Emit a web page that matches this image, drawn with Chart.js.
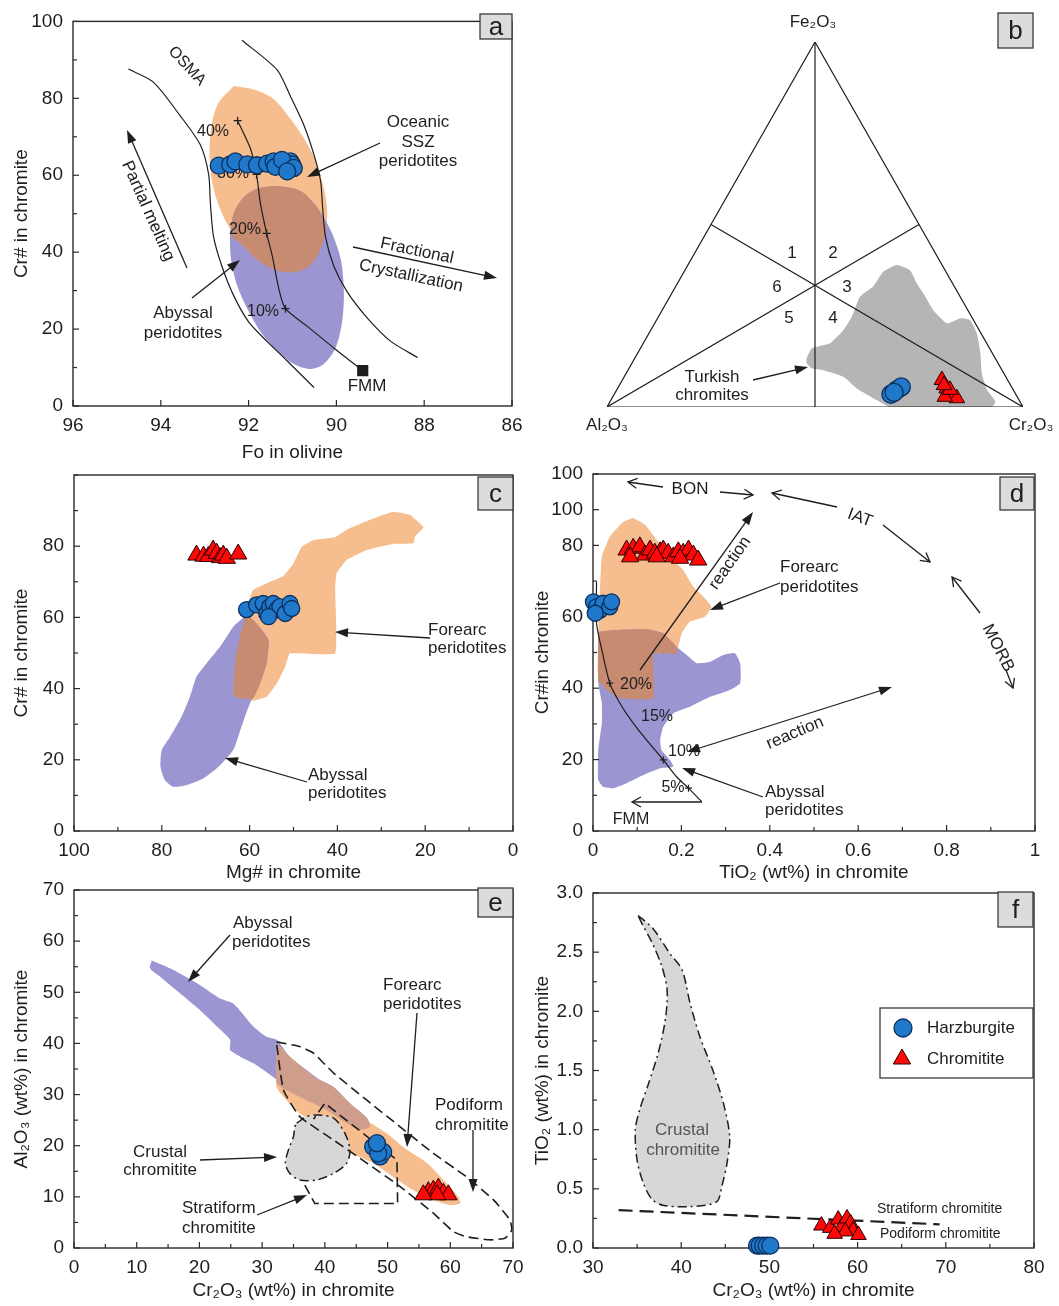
<!DOCTYPE html>
<html>
<head>
<meta charset="utf-8">
<title>Chromite discrimination diagrams</title>
<script src="https://cdn.jsdelivr.net/npm/chart.js@4.4.1/dist/chart.umd.min.js"></script>
<style>
html,body{margin:0;padding:0;background:#ffffff;}
#wrap{position:relative;width:1059px;height:1306px;overflow:hidden;background:#ffffff;}
#wrap canvas{position:absolute;left:0;top:0;}
</style>
</head>
<body>
<div id="wrap">
<canvas id="ca" width="1059" height="1306"></canvas>
<canvas id="cb" width="1059" height="1306"></canvas>
<canvas id="cc" width="1059" height="1306"></canvas>
<canvas id="cd" width="1059" height="1306"></canvas>
<canvas id="ce" width="1059" height="1306"></canvas>
<canvas id="cf" width="1059" height="1306"></canvas>
</div>
<script>
// ===================== DATA =====================
const seriesNames = ['Harzburgite', 'Chromitite'];

// ---- (a) Cr# in chromite vs Fo in olivine ----
const aSSZ_x = [92.34,91.88,91.43,91.05,90.74,90.47,90.29,90.21,90.25,90.40,90.66,91.05,91.43,91.81,92.19,92.49,92.72,92.86,92.89,92.83,92.68];
const aSSZ_y = [83.2,82.3,79.8,74.7,69.6,63.6,56.8,50.8,44.9,39.8,36.0,34.7,35.5,38.1,42.3,47.4,53.4,60.2,67.0,73.8,78.9];
const aAby_x = [91.35,90.82,90.44,90.13,89.90,89.83,89.87,90.02,90.29,90.59,90.97,91.35,91.73,92.03,92.26,92.40,92.42,92.34,92.11,91.77];
const aAby_y = [57.2,55.9,51.7,45.7,38.1,29.6,21.9,15.1,10.9,9.6,10.9,14.3,19.4,25.3,31.3,38.1,44.9,50.0,54.3,56.6];
const aOvl_x = [92.40,92.34,92.11,91.77,91.35,90.82,90.44,90.25,90.25,90.40,90.66,91.05,91.43,91.81,92.19];
const aOvl_y = [44.1,50.0,54.3,56.6,57.2,55.9,51.7,47.0,44.9,39.8,36.0,34.7,35.5,38.1,42.3];
const aOsmaL_x = [94.74,94.17,93.56,93.10,92.91,92.87,92.80,92.61,92.34,92.00,91.58,91.12,90.51];
const aOsmaL_y = [87.6,84.2,75.5,67.9,60.2,52.6,44.1,36.4,28.7,21.9,16.8,11.7,4.8];
const aOsmaR_x = [92.15,91.35,91.05,90.74,90.51,90.36,90.32,90.25,90.06,89.75,89.29,88.76,88.15];
const aOsmaR_y = [95.1,87.4,80.6,73.0,65.3,58.5,52.6,44.1,36.4,29.6,22.8,16.8,12.6];
const aMelt_x = [89.40,90.06,90.66,91.16,91.31,91.46,91.59,91.73,91.82,91.96,92.25];
const aMelt_y = [9.2,15.1,20.7,25.3,30.4,39.0,44.9,52.6,60.2,67.0,74.2];
const aMark_x = [92.25,91.82,91.59,91.16];
const aMark_y = [74.2,60.2,44.9,25.3];
const aFMM_x = [89.4];
const aFMM_y = [9.2];
const aHz_x = [92.68,92.42,92.30,92.03,91.81,91.58,91.43,91.31,91.20,91.12,91.05,91.01,91.39,91.24,90.97,91.12];
const aHz_y = [62.5,62.8,63.6,62.8,62.6,63.0,63.6,62.6,63.0,61.9,63.6,62.8,62.2,64.0,61.9,61.0];

// ---- (b) ternary Al2O3 - Cr2O3 - Fe2O3 (percent of Cr2O3 and Fe2O3) ----
const bTurk_cr = [41.3,41.2,44.9,46.3,46.5,45.7,47.5,47.9,50.2,54.1,57.5,60.4,65.1,70.3,72.8,75.4,78.8,82.4,85.5,89.0,92.6,92.5,68.0,63.9,57.5,52.7,47.0,43.9,42.0];
const bTurk_fe = [13.3,16.1,17.5,21.1,24.7,30.2,33.0,37.1,38.9,37.5,33.9,31.2,26.6,22.9,24.3,23.8,20.2,14.7,9.2,4.7,1.5,0,0,1.9,5.1,8.3,10.1,10.6,12.0];
const bHz_cr = [67.3,66.5,68.0,67.0];
const bHz_fe = [4.7,3.5,5.5,4.0];
const bRed_cr = [76.8,79.1,81.2,82.9,79.8,80.1,78.0];
const bRed_fe = [7.4,5.1,3.3,2.4,2.8,4.7,6.0];
const bFieldLabels = ['1','2','3','4','5','6'];

// ---- (c) Cr# vs Mg# in chromite ----
const cFore_x = [63.7,63.3,62.2,60.7,59.2,56.1,52.3,50.0,48.1,45.5,40.5,37.9,32.6,27.3,23.5,20.4,22.3,22.7,27.3,33.3,37.9,40.2,40.5,40.5,50.8,51.9,53.8,56.1,59.2,62.2];
const cFore_y = [38.2,47.1,54.6,63.0,67.7,69.6,71.6,75.2,79.9,81.7,82.5,84.6,87.4,89.7,88.8,85.3,82.7,80.8,80.6,78.9,76.1,72.4,67.7,49.9,49.9,46.1,41.5,37.7,36.6,37.2];
const cAby_x = [60.7,63.7,66.7,69.8,72.1,73.6,75.5,78.1,80.0,80.3,79.3,77.4,74.3,70.5,66.7,63.7,62.6,61.6,59.9,57.6,56.1,55.7,58.4];
const cAby_y = [60.7,57.4,51.8,47.1,43.3,37.7,32.1,26.5,22.8,18.1,14.3,12.4,12.9,14.8,18.5,22.8,26.5,30.2,35.9,41.5,47.1,53.7,58.3];
const cOvl_x = [60.7,58.4,55.7,56.1,57.6,59.2,62.2,63.7,63.3,62.2];
const cOvl_y = [61.1,58.3,53.7,47.1,41.5,37.2,37.2,38.2,47.1,54.6];
const cRed_x = [72.1,70.5,69.4,68.3,67.5,66.7,66.0,65.2,62.6];
const cRed_y = [77.5,77.2,77.1,78.9,78.0,76.8,77.5,76.6,77.8];
const cHz_x = [60.7,58.4,56.9,56.1,55.4,54.6,53.8,53.1,51.9,50.8,50.4,55.7];
const cHz_y = [62.2,63.5,63.9,61.1,63.0,63.9,62.1,63.0,61.1,63.9,62.5,60.2];
const cYTicks = [0,20,40,60,80];

// ---- (d) Cr# vs TiO2 in chromite ----
const dFore_x = [0.012,0.016,0.020,0.038,0.069,0.091,0.118,0.144,0.174,0.204,0.227,0.250,0.268,0.253,0.219,0.201,0.193,0.189,0.137,0.137,0.061,0.031,0.012];
const dFore_y = [55.8,67.5,76.8,82.4,86.6,87.6,85.7,81.5,76.8,73.1,68.4,65.6,62.8,60.0,58.6,55.4,51.6,49.6,49.6,37.2,37.2,39.5,42.3];
const dAby_x = [0.012,0.054,0.121,0.159,0.189,0.212,0.235,0.265,0.295,0.321,0.333,0.333,0.310,0.265,0.219,0.182,0.159,0.152,0.155,0.174,0.182,0.152,0.114,0.076,0.046,0.023,0.012,0.012,0.020,0.020,0.012];
const dAby_y = [55.8,56.3,56.5,55.4,51.6,49.3,47.0,47.4,49.3,49.8,47.0,41.4,39.5,37.6,34.8,33.0,29.2,25.5,22.7,19.9,18.0,17.6,15.7,13.4,12.0,12.4,14.3,22.7,30.2,35.8,41.4];
const dOvl_x = [0.012,0.054,0.121,0.159,0.189,0.189,0.137,0.137,0.061,0.031,0.012];
const dOvl_y = [55.8,56.3,56.5,55.4,51.6,49.6,49.6,37.2,37.2,39.5,42.3];
const dMelt_x = [0.008,0.008,0.020,0.038,0.061,0.091,0.121,0.159,0.189,0.216,0.246];
const dMelt_y = [69.8,58.2,50.7,41.4,35.8,30.2,25.5,19.9,15.2,12.0,8.2];
const dMark_x = [0.038,0.159,0.216];
const dMark_y = [41.4,19.9,12.0];
const dRed_x = [0.076,0.091,0.106,0.118,0.129,0.140,0.152,0.159,0.170,0.182,0.193,0.204,0.216,0.227,0.238,0.084,0.144,0.197];
const dRed_y = [78.7,79.2,79.6,77.3,78.7,77.8,78.2,78.7,77.8,76.8,78.2,77.8,78.7,77.3,75.9,76.8,76.8,76.4];
const dHz_x = [0.001,0.008,0.016,0.023,0.038,0.042,0.005];
const dHz_y = [64.2,62.8,61.9,63.8,62.8,64.2,61.0];
const dYTicks = [0,20,40,60,80,90,100];
const dYLabels = ['0','20','40','60','80','100','100'];
const dXTicks = [0,0.2,0.4,0.6,0.8,1];
const dXLabels = ['0','0.2','0.4','0.6','0.8','1'];

// ---- (e) Al2O3 vs Cr2O3 in chromite ----
const eAby_x = [12.4,15.8,20.1,23.3,25.4,28.6,30.7,32.3,34.4,37.1,39.2,41.4,44.0,46.7,47.2,45.6,43.5,40.3,37.1,33.9,32.3,30.2,28.6,26.5,24.9,24.9,22.8,20.1,16.9,13.7,12.1];
const eAby_y = [56.2,54.4,51.4,48.8,47.8,43.3,41.3,40.7,37.4,34.8,32.9,31.5,28.3,25.4,23.7,23.1,24.4,27.0,28.9,30.9,32.9,34.8,36.1,37.4,38.7,40.7,43.3,46.5,49.8,53.1,54.7];
const eFore_x = [32.3,35.0,38.2,40.8,43.5,46.7,49.9,53.1,56.3,58.9,61.3,61.6,60.0,57.3,54.1,50.9,47.7,44.5,41.4,38.7,36.0,33.9,32.3,32.3];
const eFore_y = [40.0,36.8,33.5,30.9,28.3,25.0,22.4,19.2,16.6,13.3,10.0,8.7,8.4,9.4,11.3,13.9,16.6,18.5,21.8,24.4,26.3,28.9,31.5,37.4];
const eOvl_x = [32.3,35.0,38.2,41.4,44.0,46.7,47.2,45.6,43.5,40.3,37.1,33.9,32.3];
const eOvl_y = [40.0,36.8,33.5,31.5,28.3,25.4,23.7,23.1,24.4,27.0,28.9,30.9,32.2];
const ePod_x = [32.3,36.0,38.2,41.4,46.7,52.0,57.3,62.6,66.9,69.5,69.8,68.7,66.3,62.6,60.5,57.3,52.0,46.7,41.4,36.0,33.4,32.3];
const ePod_y = [40.3,39.4,38.1,34.2,28.9,23.7,18.5,13.9,9.4,5.5,3.5,1.9,1.6,2.2,3.2,6.8,12.0,16.6,21.1,25.7,30.9,40.0];
const eStrat_x = [36.8,38.4,51.6,51.5,40.0,38.2];
const eStrat_y = [12.3,8.7,8.7,17.2,28.3,25.2];
const eCrust_x = [35.5,37.1,38.7,41.4,43.2,44.0,43.5,41.4,38.7,36.0,34.4,33.7,34.2,35.0,35.2];
const eCrust_y = [24.4,25.7,26.0,25.4,22.4,19.2,16.6,14.6,13.3,13.3,14.6,16.6,19.2,21.8,23.7];
const eHz_x = [47.7,48.8,49.3,48.5,48.3];
const eHz_y = [19.8,17.9,18.8,18.5,20.5];
const eRed_x = [56.5,57.3,58.1,58.9,59.7,57.9,55.7];
const eRed_y = [11.0,11.3,11.7,10.7,10.4,10.4,10.4];

// ---- (f) TiO2 vs Cr2O3 in chromite ----
const fCrust_x = [35.1,36.8,38.7,40.1,41.0,42.1,43.6,44.8,45.5,45.2,44.6,44.0,41.0,38.0,36.7,35.7,35.0,34.8,35.3,36.3,37.4,38.2,38.4,37.8,36.7,35.7];
const fCrust_y = [2.81,2.70,2.49,2.35,2.07,1.79,1.50,1.22,0.94,0.72,0.52,0.39,0.35,0.36,0.41,0.55,0.74,1.00,1.17,1.39,1.65,1.93,2.18,2.38,2.58,2.72];
const fLine_x = [32.9,69.3];
const fLine_y = [0.32,0.20];
const fHz_x = [48.6,48.9,49.3,49.7,50.1];
const fHz_y = [0.02,0.02,0.02,0.02,0.02];
const fRed_x = [55.9,56.9,57.8,58.2,58.8,59.2,59.5,60.1,58.6,57.4];
const fRed_y = [0.19,0.17,0.24,0.18,0.25,0.21,0.15,0.11,0.14,0.12];

// ===================== STYLE / HELPERS =====================
const PAGE_W = 1059, PAGE_H = 1306;
const FONT = '"Liberation Sans", Arial, Helvetica, sans-serif';
const INK = '#1e1e1e';
Chart.defaults.font.family = FONT;
Chart.defaults.color = INK;

const COL = {
  orange: '#F6BE8E', purple: '#9B96D1', brown: '#C68B70', brownE: '#CF9D8B',
  grayB: '#B5B5B5', crust: '#D7D7D7', blue: '#1F78C9', blueEdge: '#0C2E5C',
  red: '#FF0808', redEdge: '#2A0000'
};
const SQ = Math.sqrt(3) / 2;

function xy(xs, ys) { return xs.map((x, i) => ({x: x, y: ys[i]})); }
function tern(crs, fes) { return crs.map((c, i) => ({x: (c + fes[i] / 2) / 100, y: fes[i] / 100 * SQ})); }
function ring(d) { return d.concat([{x: d[0].x, y: d[0].y}]); }

function area(d, color, tension, extra) {
  return Object.assign({data: ring(d), showLine: true, fill: 'shape', backgroundColor: color,
    borderColor: 'rgba(0,0,0,0)', borderWidth: 1, pointRadius: 0, pointHitRadius: 0, tension: tension || 0}, extra || {});
}
function curve(d, extra) {
  return Object.assign({data: d, showLine: true, fill: false, borderColor: INK, borderWidth: 1.2,
    pointRadius: 0, pointHitRadius: 0, tension: 0}, extra || {});
}
function hz(d, r) {
  return {label: seriesNames[0], data: d, pointStyle: 'circle', pointRadius: r || 8, backgroundColor: COL.blue,
    borderColor: COL.blueEdge, borderWidth: 1.3, clip: false};
}
function cm(d, r) {
  return {label: seriesNames[1], data: d, pointStyle: 'triangle', pointRadius: r || 10, backgroundColor: COL.red,
    borderColor: COL.redEdge, borderWidth: 1, clip: false};
}
function marks(d, style, r) {
  return {data: d, pointStyle: style, pointRadius: r, backgroundColor: INK, borderColor: INK, borderWidth: 1.2, clip: false};
}

function axis(o) {
  const s = {
    type: 'linear', min: o.min, max: o.max, reverse: !!o.reverse,
    grid: {display: false, drawTicks: false},
    border: {display: false},
    ticks: {autoSkip: false, maxRotation: 0, padding: o.pad, font: {size: 19}, color: INK},
    title: {display: true, text: o.title, font: {size: 19}, padding: 0, color: INK},
    afterFit: function (sc) { if (o.isX) sc.height = o.size; else sc.width = o.size; }
  };
  if (o.step) s.ticks.stepSize = o.step;
  if (o.fmt) s.ticks.callback = o.fmt;
  if (o.tickValues) s.afterBuildTicks = function (sc) { sc.ticks = o.tickValues.map(v => ({value: v})); };
  return s;
}

function txt(ctx, o) {
  ctx.save();
  ctx.font = (o.size || 17) + 'px ' + FONT;
  ctx.fillStyle = o.color || INK;
  ctx.textAlign = o.align || 'center';
  ctx.textBaseline = 'middle';
  ctx.translate(o.x, o.y);
  if (o.rot) ctx.rotate(o.rot * Math.PI / 180);
  ctx.fillText(o.t, 0, 0);
  ctx.restore();
}
function head(ctx, x, y, ang, open, L, Wd) {
  const bx = x - Math.cos(ang) * L, by = y - Math.sin(ang) * L;
  const px = -Math.sin(ang) * Wd, py = Math.cos(ang) * Wd;
  ctx.beginPath();
  ctx.moveTo(bx + px, by + py); ctx.lineTo(x, y); ctx.lineTo(bx - px, by - py);
  if (open) ctx.stroke(); else { ctx.closePath(); ctx.fill(); }
}
function arrow(ctx, a) {
  const ang = Math.atan2(a.y2 - a.y1, a.x2 - a.x1);
  const L = a.open ? 9 : 13, Wd = a.open ? 5 : 4.5;
  ctx.save();
  ctx.strokeStyle = INK; ctx.fillStyle = INK; ctx.lineWidth = 1.3;
  let sx = a.x1, sy = a.y1, ex = a.x2, ey = a.y2;
  if (!a.open) { ex -= Math.cos(ang) * L * 0.7; ey -= Math.sin(ang) * L * 0.7; }
  if (!a.open && a.both) { sx += Math.cos(ang) * L * 0.7; sy += Math.sin(ang) * L * 0.7; }
  ctx.beginPath(); ctx.moveTo(sx, sy); ctx.lineTo(ex, ey); ctx.stroke();
  head(ctx, a.x2, a.y2, ang, a.open, L, Wd);
  if (a.both) head(ctx, a.x1, a.y1, ang + Math.PI, a.open, L, Wd);
  ctx.restore();
}
function frame(chart, spec) {
  const ctx = chart.ctx, A = chart.chartArea;
  ctx.save();
  ctx.strokeStyle = '#2a2a2a'; ctx.lineWidth = 1.4;
  ctx.strokeRect(A.left, A.top, A.right - A.left, A.bottom - A.top);
  ctx.lineWidth = 1.2;
  ['x', 'y'].forEach(function (id) {
    const s = chart.scales[id];
    const major = s.ticks.map(t => t.value);
    const list = major.map(v => [v, 6]);
    const step = spec.minor[id];
    if (step) {
      const n = Math.round((s.max - s.min) / step);
      for (let i = 0; i <= n; i++) {
        const v = s.min + i * step;
        if (!major.some(m => Math.abs(m - v) < 1e-6)) list.push([v, 4]);
      }
    }
    list.forEach(function (p) {
      const px = s.getPixelForValue(p[0]);
      ctx.beginPath();
      if (id === 'x') { ctx.moveTo(px, A.bottom); ctx.lineTo(px, A.bottom - p[1]); }
      else { ctx.moveTo(A.left, px); ctx.lineTo(A.left + p[1], px); }
      ctx.stroke();
    });
  });
  ctx.restore();
}
function letter(ctx, L) {
  ctx.save();
  ctx.fillStyle = '#dcdcdc'; ctx.strokeStyle = '#3a3a3a'; ctx.lineWidth = 1.3;
  ctx.fillRect(L.x, L.y, L.w, L.h); ctx.strokeRect(L.x, L.y, L.w, L.h);
  ctx.restore();
  txt(ctx, {t: L.t, x: L.x + L.w / 2, y: L.y + L.h / 2 + 1, size: 26});
}
function legendBox(chart, L) {
  const ctx = chart.ctx;
  ctx.save();
  ctx.fillStyle = '#ffffff'; ctx.strokeStyle = '#3a3a3a'; ctx.lineWidth = 1.3;
  ctx.fillRect(L.x, L.y, L.w, L.h); ctx.strokeRect(L.x, L.y, L.w, L.h);
  L.items.forEach(function (it) {
    const ds = chart.data.datasets[it.ds];
    ctx.fillStyle = ds.backgroundColor; ctx.strokeStyle = ds.borderColor; ctx.lineWidth = ds.borderWidth;
    Chart.helpers.drawPoint(ctx, {pointStyle: ds.pointStyle, radius: it.r, borderWidth: ds.borderWidth, rotation: 0}, it.mx, it.my);
    txt(ctx, {t: ds.label, x: it.tx, y: it.my, align: 'left', size: 17});
  });
  ctx.restore();
}
function decorate(spec) {
  let done = false;
  function annots(chart) {
    if (done) return; done = true;
    const ctx = chart.ctx;
    if (spec.frame) frame(chart, spec);
    (spec.texts || []).forEach(t => txt(ctx, t));
    (spec.arrows || []).forEach(a => arrow(ctx, a));
  }
  return {
    id: 'decorate',
    beforeDraw: function () { done = false; },
    afterDatasetDraw: function (chart, args) { if (args.index === spec.textAfter) annots(chart); },
    afterDraw: function (chart) {
      annots(chart);
      if (spec.legend) legendBox(chart, spec.legend);
      if (spec.letter) letter(chart.ctx, spec.letter);
    }
  };
}

function build(id, box, xs, ys, datasets, spec) {
  const lh = 19 * 1.2;
  let padding, scales;
  if (box.noAxes) {
    padding = {left: box.l, top: box.t, right: PAGE_W - box.r, bottom: PAGE_H - box.b};
    scales = {x: {type: 'linear', display: false, min: xs.min, max: xs.max},
              y: {type: 'linear', display: false, min: ys.min, max: ys.max}};
  } else {
    padding = {left: box.ytx - lh / 2, top: box.t, right: PAGE_W - box.r, bottom: PAGE_H - box.xty - lh / 2};
    xs.isX = true; xs.size = box.xty + lh / 2 - box.b; xs.pad = 8;
    ys.isX = false; ys.size = box.l - box.ytx + lh / 2; ys.pad = 10;
    scales = {x: axis(xs), y: axis(ys)};
  }
  datasets.forEach(function (d, i) { d.order = datasets.length - i; });
  return new Chart(document.getElementById(id), {
    type: 'scatter',
    data: {datasets: datasets},
    options: {
      responsive: false, animation: false, events: [],
      layout: {padding: padding, autoPadding: false},
      plugins: {legend: {display: false}, tooltip: {enabled: false}},
      scales: scales
    },
    plugins: [decorate(spec)]
  });
}

// ===================== PANEL a =====================
build('ca', {l: 73, t: 14, r: 512, b: 406, ytx: 22, xty: 453},
  {min: 86, max: 96, reverse: true, step: 2, title: 'Fo in olivine'},
  {min: 0, max: 100, step: 20, title: 'Cr# in chromite'},
  [
    area(xy(aSSZ_x, aSSZ_y), COL.orange, 0.3),
    area(xy(aAby_x, aAby_y), COL.purple, 0.3),
    area(xy(aOvl_x, aOvl_y), COL.brown, 0.3),
    curve(xy(aOsmaL_x, aOsmaL_y), {tension: 0.25}),
    curve(xy(aOsmaR_x, aOsmaR_y), {tension: 0.25}),
    curve(xy(aMelt_x, aMelt_y), {tension: 0.25}),
    marks(xy(aMark_x, aMark_y), 'cross', 4),
    hz(xy(aHz_x, aHz_y), 8.5),
    marks(xy(aFMM_x, aFMM_y), 'rect', 7)
  ],
  {
    frame: true, minor: {x: 0, y: 10}, textAfter: 6,
    texts: [
      {t: 'OSMA', x: 187, y: 66, rot: 47, size: 16},
      {t: '40%', x: 213, y: 132, size: 16},
      {t: '30%', x: 233, y: 174, size: 16},
      {t: '20%', x: 245, y: 230, size: 16},
      {t: '10%', x: 263, y: 312, size: 16},
      {t: 'Partial melting', x: 148, y: 211, rot: 66},
      {t: 'Oceanic', x: 418, y: 122}, {t: 'SSZ', x: 418, y: 142}, {t: 'peridotites', x: 418, y: 161},
      {t: 'Fractional', x: 417, y: 251, rot: 12}, {t: 'Crystallization', x: 411, y: 276, rot: 12},
      {t: 'Abyssal', x: 183, y: 313}, {t: 'peridotites', x: 183, y: 333},
      {t: 'FMM', x: 367, y: 386}
    ],
    arrows: [
      {x1: 187, y1: 268, x2: 127, y2: 130},
      {x1: 380, y1: 143, x2: 307, y2: 177},
      {x1: 353, y1: 247, x2: 497, y2: 278},
      {x1: 192, y1: 298, x2: 240, y2: 260}
    ],
    letter: {t: 'a', x: 480, y: 14, w: 32, h: 25}
  });

// ===================== PANEL b (ternary) =====================
build('cb', {noAxes: true, l: 607, t: 42, r: 1023, b: 407},
  {min: 0, max: 1}, {min: 0, max: SQ},
  [
    area(tern(bTurk_cr, bTurk_fe), COL.grayB, 0.15),
    curve(tern([0, 100, 0, 0], [0, 0, 100, 0])),
    curve(tern([0, 50], [100, 0])),
    curve(tern([0, 50], [0, 50])),
    curve(tern([100, 0], [0, 50])),
    hz(tern(bHz_cr, bHz_fe), 9),
    cm(tern(bRed_cr, bRed_fe), 9)
  ],
  {
    textAfter: 4,
    texts: [
      {t: 'Fe₂O₃', x: 813, y: 22},
      {t: 'Al₂O₃', x: 607, y: 425},
      {t: 'Cr₂O₃', x: 1031, y: 425},
      {t: bFieldLabels[0], x: 792, y: 253}, {t: bFieldLabels[1], x: 833, y: 253},
      {t: bFieldLabels[2], x: 847, y: 287}, {t: bFieldLabels[3], x: 833, y: 318},
      {t: bFieldLabels[4], x: 789, y: 318}, {t: bFieldLabels[5], x: 777, y: 287},
      {t: 'Turkish', x: 712, y: 377}, {t: 'chromites', x: 712, y: 395}
    ],
    arrows: [{x1: 753, y1: 380, x2: 808, y2: 367}],
    letter: {t: 'b', x: 998, y: 13, w: 35, h: 35}
  });

// ===================== PANEL c =====================
build('cc', {l: 74, t: 475, r: 513, b: 831, ytx: 22, xty: 873},
  {min: 0, max: 100, reverse: true, step: 20, title: 'Mg# in chromite'},
  {min: 0, max: 100, tickValues: cYTicks, title: 'Cr# in chromite'},
  [
    area(xy(cFore_x, cFore_y), COL.orange, 0.1),
    area(xy(cAby_x, cAby_y), COL.purple, 0.2),
    area(xy(cOvl_x, cOvl_y), COL.brown, 0.1),
    cm(xy(cRed_x, cRed_y), 10),
    hz(xy(cHz_x, cHz_y), 8)
  ],
  {
    frame: true, minor: {x: 10, y: 10}, textAfter: 2,
    texts: [
      {t: 'Forearc', x: 428, y: 630, align: 'left'}, {t: 'peridotites', x: 428, y: 648, align: 'left'},
      {t: 'Abyssal', x: 308, y: 775, align: 'left'}, {t: 'peridotites', x: 308, y: 793, align: 'left'}
    ],
    arrows: [
      {x1: 430, y1: 638, x2: 335, y2: 632},
      {x1: 307, y1: 782, x2: 225, y2: 758}
    ],
    letter: {t: 'c', x: 478, y: 477, w: 35, h: 33}
  });

// ===================== PANEL d =====================
build('cd', {l: 593, t: 474, r: 1035, b: 831, ytx: 543, xty: 873},
  {min: 0, max: 1, tickValues: dXTicks, fmt: (v, i) => dXLabels[i], title: 'TiO₂ (wt%) in chromite'},
  {min: 0, max: 100, tickValues: dYTicks, fmt: (v, i) => dYLabels[i], title: 'Cr#in chromite'},
  [
    area(xy(dFore_x, dFore_y), COL.orange, 0.15),
    area(xy(dAby_x, dAby_y), COL.purple, 0.15),
    area(xy(dOvl_x, dOvl_y), COL.brown, 0.1),
    curve(xy(dMelt_x, dMelt_y), {tension: 0.25}),
    marks(xy(dMark_x, dMark_y), 'cross', 3.5),
    cm(xy(dRed_x, dRed_y), 10),
    hz(xy(dHz_x, dHz_y), 8)
  ],
  {
    frame: true, minor: {x: 0.1, y: 10}, textAfter: 4,
    texts: [
      {t: 'BON', x: 690, y: 489},
      {t: 'IAT', x: 860, y: 518, rot: 20},
      {t: 'MORB', x: 998, y: 648, rot: 63},
      {t: 'reaction', x: 730, y: 563, rot: -55},
      {t: 'reaction', x: 795, y: 733, rot: -23},
      {t: 'Forearc', x: 780, y: 567, align: 'left'}, {t: 'peridotites', x: 780, y: 587, align: 'left'},
      {t: 'Abyssal', x: 765, y: 792, align: 'left'}, {t: 'peridotites', x: 765, y: 810, align: 'left'},
      {t: '20%', x: 636, y: 685, size: 16}, {t: '15%', x: 657, y: 717, size: 16},
      {t: '10%', x: 684, y: 752, size: 16}, {t: '5%', x: 673, y: 788, size: 16},
      {t: 'FMM', x: 631, y: 820, size: 16}
    ],
    arrows: [
      {x1: 663, y1: 487, x2: 628, y2: 482, open: true},
      {x1: 720, y1: 492, x2: 753, y2: 495, open: true},
      {x1: 837, y1: 507, x2: 772, y2: 493, open: true},
      {x1: 883, y1: 525, x2: 930, y2: 562, open: true},
      {x1: 980, y1: 613, x2: 952, y2: 577, open: true},
      {x1: 1006, y1: 670, x2: 1013, y2: 688, open: true},
      {x1: 640, y1: 670, x2: 753, y2: 512},
      {x1: 687, y1: 752, x2: 892, y2: 687, both: true},
      {x1: 780, y1: 583, x2: 710, y2: 610},
      {x1: 763, y1: 797, x2: 682, y2: 768},
      {x1: 702, y1: 802, x2: 632, y2: 802, open: true}
    ],
    letter: {t: 'd', x: 1000, y: 477, w: 34, h: 33}
  });

// ===================== PANEL e =====================
build('ce', {l: 74, t: 890, r: 513, b: 1248, ytx: 22, xty: 1291},
  {min: 0, max: 70, step: 10, title: 'Cr₂O₃ (wt%) in chromite'},
  {min: 0, max: 70, step: 10, title: 'Al₂O₃ (wt%) in chromite'},
  [
    area(xy(eAby_x, eAby_y), COL.purple, 0.2),
    area(xy(eFore_x, eFore_y), COL.orange, 0.2),
    area(xy(eOvl_x, eOvl_y), COL.brownE, 0.2),
    area(xy(eCrust_x, eCrust_y), COL.crust, 0.3, {borderColor: INK, borderWidth: 1.5, borderDash: [9, 4, 2, 4]}),
    curve(ring(xy(ePod_x, ePod_y)), {borderWidth: 1.6, borderDash: [10, 5], tension: 0.15}),
    curve(xy(eStrat_x, eStrat_y), {borderWidth: 1.6, borderDash: [10, 5]}),
    hz(xy(eHz_x, eHz_y), 8.5),
    cm(xy(eRed_x, eRed_y), 10)
  ],
  {
    frame: true, minor: {x: 5, y: 5}, textAfter: 5,
    texts: [
      {t: 'Abyssal', x: 233, y: 923, align: 'left'}, {t: 'peridotites', x: 232, y: 942, align: 'left'},
      {t: 'Forearc', x: 383, y: 985, align: 'left'}, {t: 'peridotites', x: 383, y: 1004, align: 'left'},
      {t: 'Podiform', x: 435, y: 1105, align: 'left'}, {t: 'chromitite', x: 435, y: 1125, align: 'left'},
      {t: 'Crustal', x: 160, y: 1152}, {t: 'chromitite', x: 160, y: 1170},
      {t: 'Stratiform', x: 182, y: 1208, align: 'left'}, {t: 'chromitite', x: 182, y: 1228, align: 'left'}
    ],
    arrows: [
      {x1: 230, y1: 935, x2: 188, y2: 982},
      {x1: 417, y1: 1013, x2: 407, y2: 1147},
      {x1: 473, y1: 1130, x2: 473, y2: 1192},
      {x1: 200, y1: 1160, x2: 277, y2: 1157},
      {x1: 257, y1: 1215, x2: 307, y2: 1195}
    ],
    letter: {t: 'e', x: 478, y: 888, w: 35, h: 29}
  });

// ===================== PANEL f =====================
build('cf', {l: 593, t: 893, r: 1034, b: 1248, ytx: 543, xty: 1291},
  {min: 30, max: 80, step: 10, title: 'Cr₂O₃ (wt%) in chromite'},
  {min: 0, max: 3, step: 0.5, fmt: v => v.toFixed(1), title: 'TiO₂ (wt%) in chromite'},
  [
    area(xy(fCrust_x, fCrust_y), COL.crust, 0.3, {borderColor: INK, borderWidth: 1.5, borderDash: [9, 4, 2, 4]}),
    curve(xy(fLine_x, fLine_y), {borderWidth: 2.2, borderDash: [14, 7]}),
    hz(xy(fHz_x, fHz_y), 8.5),
    cm(xy(fRed_x, fRed_y), 9)
  ],
  {
    frame: true, minor: {x: 5, y: 0.25}, textAfter: 1,
    texts: [
      {t: 'Crustal', x: 682, y: 1130, color: '#555555'}, {t: 'chromitite', x: 683, y: 1150, color: '#555555'},
      {t: 'Stratiform chromitite', x: 877, y: 1209, align: 'left', size: 14},
      {t: 'Podiform chromitite', x: 880, y: 1234, align: 'left', size: 14}
    ],
    legend: {x: 880, y: 1008, w: 153, h: 70, items: [
      {ds: 2, r: 9, mx: 903, my: 1028, tx: 927},
      {ds: 3, r: 10, mx: 902, my: 1059, tx: 927}
    ]},
    letter: {t: 'f', x: 998, y: 892, w: 35, h: 35}
  });
</script>
</body>
</html>
